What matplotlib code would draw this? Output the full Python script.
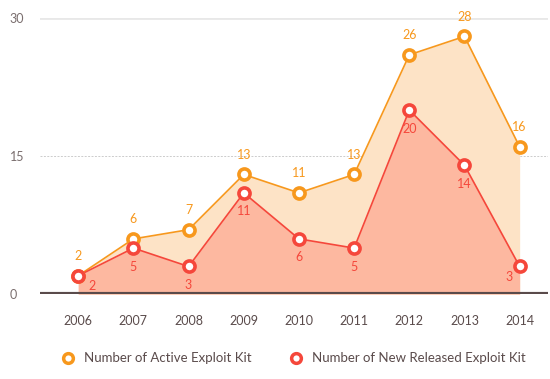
import matplotlib.pyplot as plt
from matplotlib.lines import Line2D

years = [2006, 2007, 2008, 2009, 2010, 2011, 2012, 2013, 2014]
active_kits = [2, 6, 7, 13, 11, 13, 26, 28, 16]
new_kits = [2, 5, 3, 11, 6, 5, 20, 14, 3]
y_ticks = [0, 15, 30]

ORANGE = "#F7981D"
ORANGE_FILL = "#FDE3C6"
RED = "#F5473B"
RED_FILL = "#FDB8A0"
BASE = "#5A4B4B"

plt.rcParams["font.family"] = ["Lato", "DejaVu Sans"]

fig = plt.figure(figsize=(5.5, 3.79), dpi=100)
ax = fig.add_axes([0.073, 0.224, 0.923, 0.7285])

ax.set_xlim(2005.31, 2014.51)
ax.set_ylim(0, 30)

# grid lines
ax.axhline(30, color="#E8E8E8", lw=2, zorder=0)
ax.axhline(15, color="#CCCCCC", lw=0.7, ls=(0, (2, 1.5)), zorder=0)

ax.fill_between(years, active_kits, 0, color=ORANGE_FILL, lw=0, zorder=1)
ax.fill_between(years, new_kits, 0, color=RED_FILL, lw=0, zorder=2)
ax.plot(years, active_kits, color=ORANGE, lw=1.2, zorder=3)
ax.plot(years, new_kits, color=RED, lw=1.2, zorder=4)
ax.plot(years, active_kits, "o", ms=8, mfc="white", mec=ORANGE, mew=2.6, zorder=5, clip_on=False)
ax.plot(years, new_kits, "o", ms=8, mfc="white", mec=RED, mew=2.6, zorder=6, clip_on=False)

ax.axhline(0, color=BASE, lw=3, zorder=7)

for x, v in zip(years, active_kits):
    ax.annotate(str(v), (x, v), xytext=(0, 10), textcoords="offset points",
                ha="center", va="bottom", color=ORANGE, fontsize=9)
last = len(years) - 1
for i, (x, v) in enumerate(zip(years, new_kits)):
    # first and last labels sit beside the point, the rest below it
    if i == 0:
        off, ha = (7, -3), "left"
    elif i == last:
        off, ha = (-5, -3), "right"
    else:
        off, ha = (0, -9), "center"
    ax.annotate(str(v), (x, v), xytext=off, textcoords="offset points",
                ha=ha, va="top", color=RED, fontsize=9, zorder=8)

ax.set_xticks(years)
ax.set_xticklabels([str(y) for y in years], fontsize=9, color=BASE)
ax.set_yticks(y_ticks)
ax.set_yticklabels([str(t) for t in y_ticks], fontsize=9, color="#7A6E6E")
ax.tick_params(axis="x", length=0, pad=15)
ax.tick_params(axis="y", length=0, pad=22)
for s in ax.spines.values():
    s.set_visible(False)
for lbl in ax.get_yticklabels():
    lbl.set_horizontalalignment("left")

handles = [
    Line2D([], [], ls="none", marker="o", ms=7, mfc="white", mec=ORANGE, mew=2.5,
           label="Number of Active Exploit Kit"),
    Line2D([], [], ls="none", marker="o", ms=7, mfc="white", mec=RED, mew=2.5,
           label="Number of New Released Exploit Kit"),
]
fig.legend(handles=handles, loc="center", bbox_to_anchor=(0.528, 0.055), ncol=2,
           frameon=False, fontsize=9.5, handletextpad=0.2, columnspacing=2.4,
           labelcolor=BASE)

fig.savefig("out.png", dpi=100)
